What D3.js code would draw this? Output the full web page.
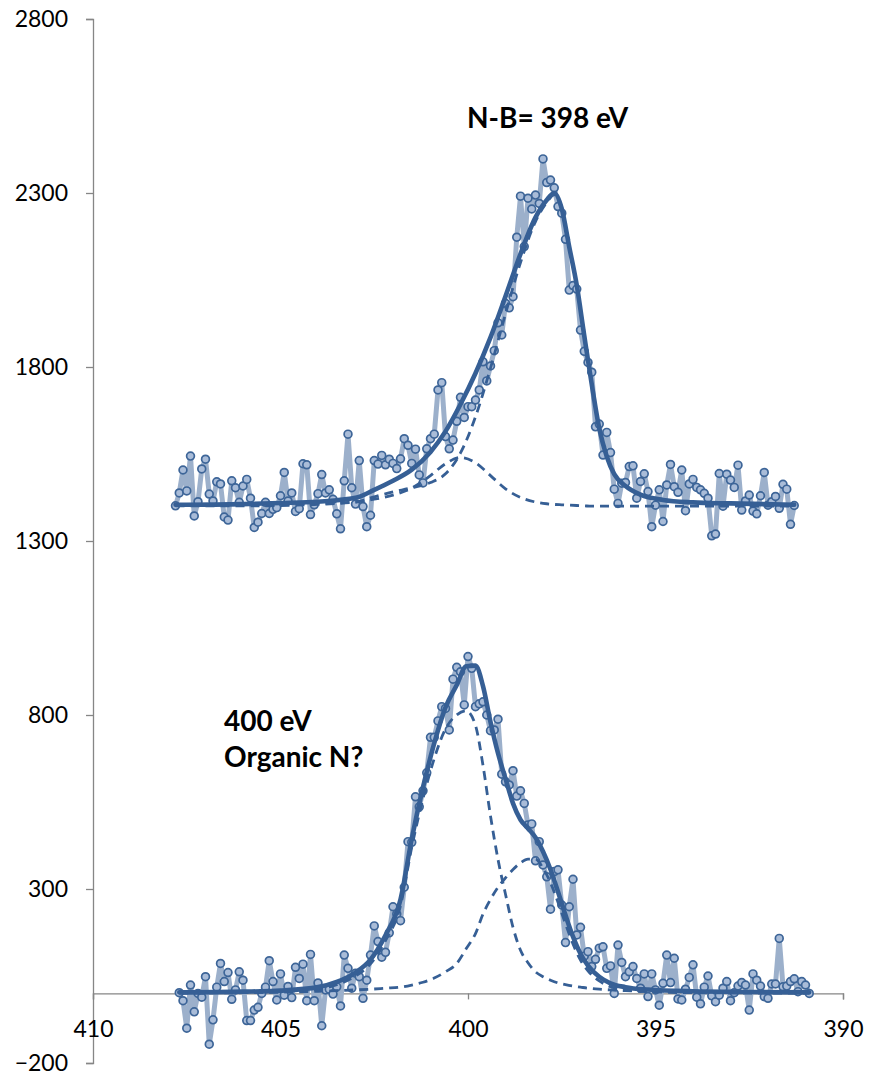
<!DOCTYPE html>
<html>
<head>
<meta charset="utf-8">
<script src="https://cdn.jsdelivr.net/npm/d3@7"></script>
<style>
  html, body { margin: 0; padding: 0; background: #ffffff; }
  svg { display: block; }
</style>
</head>
<body>
<svg id="chart" width="883" height="1074"></svg>
<script>
// ---------------- DATA ----------------
const xTicks = [410, 405, 400, 395, 390];
const yTicks = [-200, 300, 800, 1300, 1800, 2300, 2800];

// Raw spectra: energy grid start (eV) and step (eV)
const topStart = 407.8, botStart = 407.7, stepEV = 0.1;

// Upper spectrum (N-B) counts
const topCounts = [
  1401, 1438, 1504, 1444, 1544, 1372, 1413, 1507, 1535, 1435,
  1415, 1470, 1464, 1369, 1360, 1473, 1453, 1411, 1458, 1477,
  1423, 1339, 1354, 1379, 1411, 1379, 1391, 1396, 1430, 1497,
  1415, 1438, 1385, 1393, 1522, 1519, 1376, 1404, 1436, 1491,
  1438, 1447, 1420, 1378, 1335, 1473, 1607, 1453, 1406, 1531,
  1399, 1341, 1374, 1531, 1521, 1546, 1519, 1535, 1523, 1508,
  1536, 1594, 1575, 1523, 1564, 1490, 1467, 1565, 1594, 1607,
  1734, 1755, 1600, 1565, 1590, 1644, 1713, 1655, 1686, 1686,
  1705, 1734, 1815, 1760, 1803, 1847, 1927, 1892, 1983, 1970,
  2002, 2173, 2291, 2146, 2285, 2254, 2294, 2270, 2398, 2330,
  2337, 2315, 2261, 2242, 2167, 2021, 2034, 2024, 1906, 1845,
  1813, 1785, 1628, 1636, 1547, 1612, 1554, 1449, 1408, 1466,
  1468, 1514, 1516, 1423, 1471, 1493, 1442, 1341, 1403, 1447,
  1356, 1461, 1520, 1456, 1440, 1504, 1387, 1464, 1477, 1454,
  1447, 1437, 1423, 1315, 1320, 1494, 1400, 1492, 1475, 1454,
  1518, 1389, 1415, 1432, 1386, 1378, 1430, 1497, 1403, 1413,
  1428, 1394, 1463, 1449, 1348, 1402
];

// Lower spectrum (400 eV) counts
const botCounts = [
  2, -21, -100, 24, -53, 0, -11, 48, -146, -76,
  18, 86, 34, 60, -17, 10, 62, 38, -78, -78,
  -48, -40, 0, 18, 94, 34, -19, 56, -5, 20,
  -12, 75, 43, 84, -21, 112, -21, 30, -93, 10,
  12, -2, 19, -36, 110, 72, 15, 58, 48, -14,
  38, 110, 194, 149, 104, 118, 174, 249, 228, 209,
  305, 436, 434, 565, 536, 582, 634, 736, 736, 783,
  824, 819, 757, 903, 937, 924, 829, 968, 934, 824,
  832, 838, 800, 755, 757, 788, 630, 608, 599, 640,
  567, 582, 546, 484, 487, 381, 436, 369, 335, 242,
  350, 355, 254, 146, 249, 328, 168, 190, 107, 120,
  77, 98, 130, 134, 72, 79, 0, 139, 89, 48,
  62, 77, 43, 15, 56, -9, 56, 10, -34, 29,
  110, 31, 101, -16, -19, 12, 46, 82, -11, -30,
  18, 50, -7, -24, -5, 15, 34, -21, 2, 21,
  31, 24, -48, 56, 38, 21, -9, -14, 27, 27,
  158, 19, 21, 34, 42, 5, 34, 24, 0
];

// Fitted curves, upper spectrum
const topFitEV = [407.8, 406, 405, 404, 403, 402.5, 402, 401.5, 401, 400.6, 400.2, 399.8, 399.4, 399.0,
  398.6, 398.2, 397.9, 397.7, 397.5, 397.3, 397.1, 396.9, 396.7, 396.5, 396.3, 396.1, 395.8, 395.4,
  394.8, 394, 393, 391.3];
const topFitTotal = [1404, 1406, 1409, 1413, 1424, 1447, 1473, 1505, 1556, 1615, 1693, 1782, 1885, 2003,
  2125, 2230, 2280, 2300, 2255, 2145, 2035, 1890, 1750, 1624, 1543, 1492, 1458, 1433,
  1418, 1411, 1408, 1404];
const topFitMain = [1403, 1405, 1407, 1408, 1412, 1427, 1441, 1453, 1468, 1493, 1553, 1657, 1797, 1953,
  2100, 2218, 2273, 2295, 2251, 2142, 2033, 1889, 1750, 1624, 1543, 1492, 1458, 1433,
  1418, 1411, 1408, 1404];
const topFitMinor = [1401, 1401, 1402, 1405, 1412, 1420, 1432, 1452, 1488, 1522, 1540, 1525, 1488, 1450,
  1425, 1412, 1407, 1405, 1404, 1403, 1402, 1401, 1400, 1400, 1400, 1400, 1400, 1400,
  1400, 1400, 1400, 1400];

// Fitted curves, lower spectrum
const botFitEV = [407.7, 406, 405, 404, 403.5, 403, 402.6, 402.2, 401.8, 401.5, 401.2, 400.9, 400.6, 400.3,
  400.05, 399.8, 399.6, 399.4, 399.2, 399.0, 398.8, 398.6, 398.4, 398.2, 398.0, 397.8, 397.6, 397.4,
  397.2, 397.0, 396.8, 396.5, 396.2, 395.8, 395.2, 394, 392.5, 390.9];
const botFitTotal = [3, 5, 8, 18, 33, 60, 97, 167, 270, 444, 592, 719, 822, 886,
  940, 942, 883, 780, 690, 617, 546, 499, 474, 448, 408, 356, 292, 225,
  163, 114, 80, 48, 29, 18, 11, 6, 4, 3];
const botFitMain = [1, 2, 4, 12, 25, 50, 85, 152, 252, 420, 560, 675, 760, 800,
  812, 770, 655, 510, 385, 285, 190, 124, 88, 62, 48, 38, 30, 25,
  21, 18, 15, 12, 10, 8, 6, 4, 3, 2];
const botFitMinor = [2, 3, 4, 6, 8, 10, 12, 15, 18, 24, 32, 44, 62, 86,
  128, 172, 228, 270, 305, 332, 356, 375, 386, 386, 360, 318, 262, 200,
  142, 96, 65, 36, 19, 10, 5, 2, 1, 1];

const labelTop = "N-B= 398 eV";
const labelBot1 = "400 eV";
const labelBot2 = "Organic N?";

// ---------------- CHART ----------------
const svg = d3.select("#chart");
const x = d3.scaleLinear().domain([410, 390]).range([93, 843]);
const y = d3.scaleLinear().domain([-200, 2800]).range([1063, 19]);

const axisColor = "#868686";
const fitColor = "#365f95";
const dataLine = "#9cb0cb";
const markFill = "#a9bcd8";
const markStroke = "#3d6598";
const fontFam = "Lato, 'Open Sans', sans-serif";

// Y axis
const yAxis = d3.axisLeft(y).tickValues(yTicks).tickSize(7).tickFormat(d3.format("d"));
const gy = svg.append("g").attr("transform", `translate(${x(410)},0)`).call(yAxis);
gy.select(".domain").attr("stroke", axisColor).attr("stroke-width", 1.3);
gy.selectAll(".tick line").attr("stroke", axisColor).attr("stroke-width", 1.3);
gy.selectAll(".tick text")
  .attr("font-family", fontFam).attr("font-size", 23).attr("fill", "#000")
  .attr("x", -25).attr("dy", "0.34em");

// X axis at y = 0
const xAxis = d3.axisBottom(x).tickValues(xTicks).tickSize(6).tickFormat(d3.format("d"));
const gx = svg.append("g").attr("transform", `translate(0,${y(0)})`).call(xAxis);
gx.select(".domain").attr("stroke", axisColor).attr("stroke-width", 1.3);
gx.selectAll(".tick line").attr("stroke", axisColor).attr("stroke-width", 1.3);
gx.selectAll(".tick text")
  .attr("font-family", fontFam).attr("font-size", 23).attr("fill", "#000")
  .attr("y", 27).attr("dy", "0.71em");

function drawSpectrum(start, counts) {
  const pts = counts.map((v, i) => ({ ev: start - i * stepEV, v }));
  const line = d3.line().x(d => x(d.ev)).y(d => y(d.v));
  svg.append("path").datum(pts)
    .attr("d", line).attr("fill", "none")
    .attr("stroke", dataLine).attr("stroke-width", 5)
    .attr("stroke-linejoin", "round");
  svg.append("g").selectAll("circle").data(pts).join("circle")
    .attr("cx", d => x(d.ev)).attr("cy", d => y(d.v)).attr("r", 3.9)
    .attr("fill", markFill).attr("stroke", markStroke).attr("stroke-width", 1.7);
}
drawSpectrum(topStart, topCounts);
drawSpectrum(botStart, botCounts);

function drawFit(evs, vals, dashed) {
  const pts = evs.map((e, i) => ({ ev: e, v: vals[i] }));
  const line = d3.line().x(d => x(d.ev)).y(d => y(d.v)).curve(d3.curveMonotoneX);
  svg.append("path").datum(pts)
    .attr("d", line).attr("fill", "none")
    .attr("stroke", fitColor)
    .attr("stroke-width", dashed ? 2.8 : 4.6)
    .attr("stroke-dasharray", dashed ? "9,6" : null)
    .attr("stroke-linecap", dashed ? "butt" : "round");
}
drawFit(topFitEV, topFitMain, true);
drawFit(topFitEV, topFitMinor, true);
drawFit(botFitEV, botFitMain, true);
drawFit(botFitEV, botFitMinor, true);
drawFit(topFitEV, topFitTotal, false);
drawFit(botFitEV, botFitTotal, false);

// Annotations
const ann = svg.append("g")
  .attr("font-family", fontFam).attr("font-weight", 700).attr("font-size", 28).attr("fill", "#000");
ann.append("text").text(labelTop).attr("x", 467).attr("y", 128);
ann.append("text").text(labelBot1).attr("x", 224).attr("y", 731);
ann.append("text").text(labelBot2).attr("x", 224).attr("y", 767);
</script>
</body>
</html>
